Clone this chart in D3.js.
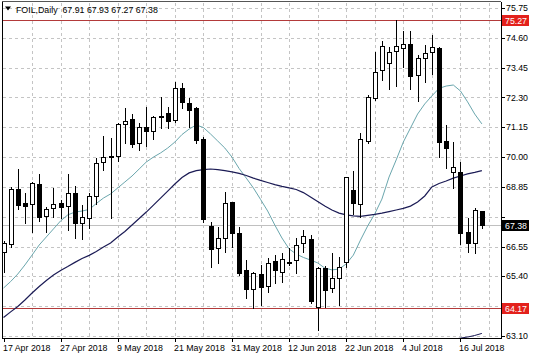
<!DOCTYPE html>
<html>
<head>
<meta charset="utf-8">
<script src="https://cdn.jsdelivr.net/npm/d3@7"></script>
<style>
body { margin: 0; background: #fff; }
svg { display: block; }
text { font-family: "Liberation Sans", Arial, sans-serif; font-size: 8.8px; }
</style>
</head>
<body>
<svg id="chart" width="536" height="357"></svg>
<script>
var symbol = "FOIL,Daily";
var dates = [
	"2018-04-17","2018-04-18","2018-04-19","2018-04-20","2018-04-23","2018-04-24","2018-04-25","2018-04-26","2018-04-27","2018-04-30",
	"2018-05-01","2018-05-02","2018-05-03","2018-05-04","2018-05-07","2018-05-08","2018-05-09","2018-05-10","2018-05-11","2018-05-14",
	"2018-05-15","2018-05-16","2018-05-17","2018-05-18","2018-05-21","2018-05-22","2018-05-23","2018-05-24","2018-05-25","2018-05-28",
	"2018-05-29","2018-05-30","2018-05-31","2018-06-01","2018-06-04","2018-06-05","2018-06-06","2018-06-07","2018-06-08","2018-06-11",
	"2018-06-12","2018-06-13","2018-06-14","2018-06-15","2018-06-18","2018-06-19","2018-06-20","2018-06-21","2018-06-22","2018-06-25",
	"2018-06-26","2018-06-27","2018-06-28","2018-06-29","2018-07-02","2018-07-03","2018-07-04","2018-07-05","2018-07-06","2018-07-09",
	"2018-07-10","2018-07-11","2018-07-12","2018-07-13","2018-07-16","2018-07-17","2018-07-18","2018-07-19"
];
var open = [
	66.35,66.65,68.76,68.22,68.18,68.95,67.74,68.02,68.22,68.11,
	68.60,67.47,67.66,68.51,69.82,70.02,70.05,71.26,71.47,70.53,
	71.17,71.02,71.56,71.71,71.43,72.68,72.07,71.88,70.70,67.34,
	66.48,66.87,68.26,67.06,65.65,64.90,65.48,65.03,65.99,65.56,
	65.95,66.03,66.68,66.84,64.21,65.74,64.94,65.35,65.94,68.73,
	68.18,70.62,72.27,73.36,73.62,74.09,74.22,74.35,73.17,73.83,
	74.04,74.22,70.62,69.44,69.44,67.12,66.68,67.91
];
var high = [
	66.75,68.86,69.54,68.60,69.03,69.35,68.09,68.80,68.35,69.35,
	68.90,68.15,68.60,69.95,70.83,70.72,71.30,71.88,71.65,71.30,
	71.92,71.60,72.33,71.94,72.91,72.85,72.27,71.94,70.79,67.51,
	67.32,68.64,68.28,67.32,66.03,65.58,65.84,66.10,66.22,66.31,
	66.50,66.87,67.19,66.99,65.77,65.80,66.29,66.16,69.24,69.46,
	70.92,72.39,74.04,74.48,74.26,75.27,74.87,74.86,73.94,74.32,
	74.71,74.25,71.24,70.59,69.82,67.64,68.03,67.93
];
var low = [
	65.58,66.54,67.99,67.47,67.12,67.55,67.10,67.70,67.64,67.19,
	66.87,66.84,67.25,68.18,69.50,67.64,69.85,70.56,70.40,70.27,
	70.43,70.69,71.11,71.11,71.36,71.88,71.17,70.53,67.49,65.77,
	65.90,66.35,66.54,65.45,64.58,64.19,64.30,64.81,65.13,65.19,
	65.84,65.52,66.35,64.36,63.33,64.23,64.81,64.30,65.77,67.79,
	67.70,70.55,72.20,72.97,72.63,72.75,73.49,72.63,72.16,72.91,
	73.19,70.02,69.57,68.80,66.64,66.33,66.29,67.27
];
var close = [
	66.68,68.76,68.15,68.13,68.99,67.70,67.99,68.18,68.06,68.60,
	67.47,67.68,68.50,69.76,69.99,70.05,71.26,71.40,70.51,71.17,
	71.01,71.55,71.59,71.40,72.65,72.11,71.82,70.66,67.61,66.46,
	66.87,68.24,67.06,65.52,64.91,65.52,65.00,65.93,65.65,66.07,
	65.92,66.61,66.97,64.45,65.71,64.87,65.35,65.77,69.22,68.22,
	70.70,72.31,73.27,74.30,74.06,74.30,74.35,73.13,73.83,74.03,
	74.23,70.59,70.34,69.63,67.06,66.68,67.96,67.38
];
// moving averages, one value per bar
var maFast = [
	64.95,65.20,65.49,65.84,66.22,66.61,66.92,67.23,67.54,67.77,
	67.88,67.92,67.98,68.21,68.42,68.58,68.81,69.04,69.27,69.54,
	69.81,70.00,70.16,70.35,70.58,70.87,71.08,71.24,71.14,70.89,
	70.62,70.35,70.00,69.56,69.19,68.81,68.37,67.92,67.38,66.88,
	66.46,66.26,66.13,66.03,65.92,65.72,65.65,65.68,65.88,66.22,
	66.80,67.34,67.81,68.38,69.23,69.89,70.58,71.12,71.66,72.05,
	72.36,72.65,72.74,72.78,72.55,72.13,71.66,71.28
];
var maSlow = [
	63.81,64.03,64.24,64.49,64.76,65.01,65.24,65.45,65.63,65.78,
	65.94,66.09,66.21,66.36,66.53,66.69,66.92,67.13,67.38,67.63,
	67.88,68.15,68.42,68.69,68.96,69.21,69.39,69.48,69.52,69.54,
	69.52,69.48,69.43,69.37,69.29,69.19,69.10,69.02,68.94,68.87,
	68.81,68.75,68.63,68.46,68.29,68.11,67.96,67.84,67.77,67.73,
	67.71,67.75,67.79,67.84,67.90,67.96,68.02,68.11,68.27,68.50,
	68.85,68.98,69.08,69.19,69.27,69.35,69.41,69.48
];
var maLongTail = [62.97,63.02,63.06,63.12,63.20]; // last 5 bars only
var priceTicks = [63.10,64.25,65.40,66.55,67.70,68.85,70.00,71.15,72.30,73.45,74.60,75.75];
var levels = [75.27, 64.17];

var svgGlobal = d3.select("#chart");
var pLeft = 2, pTop = 2, pRight = 501, pBottom = 338;
var barCount = dates.length;

var x = d3.scaleLinear().domain([0, 68]).range([3.5, 489]);
var y = d3.scaleLinear().domain([63.10, 75.75]).range([336, 8]);
var parseDate = d3.timeParse("%Y-%m-%d"),
	fmtDate = d3.timeFormat("%-d %b %Y");

function px(v) { return Math.round(v) + 0.5; }
function cx(i) { return Math.round(x(i)); }

svgGlobal.append("defs").append("clipPath").attr("id", "clip")
	.append("rect").attr("x", pLeft + 1).attr("y", pTop + 1)
	.attr("width", pRight - pLeft - 1).attr("height", pBottom - pTop - 1);

// grid
var grid = svgGlobal.append("g").attr("stroke", "#c4c4c4").attr("stroke-dasharray", "3,3");
grid.selectAll("line.h").data(priceTicks).enter().append("line")
	.attr("x1", pLeft + 1).attr("x2", pRight)
	.attr("y1", function(d) { return px(y(d)); })
	.attr("y2", function(d) { return px(y(d)); });
grid.selectAll("line.v").data(d3.range(4, 69, 4)).enter().append("line")
	.attr("x1", function(d) { return cx(d) + 0.5; })
	.attr("x2", function(d) { return cx(d) + 0.5; })
	.attr("y1", pTop + 1).attr("y2", pBottom);

var plot = svgGlobal.append("g").attr("clip-path", "url(#clip)");

// level lines and close line
plot.selectAll("line.level").data(levels).enter().append("line")
	.attr("stroke", "#b33a3a")
	.attr("x1", pLeft).attr("x2", pRight)
	.attr("y1", function(d) { return px(y(d)); })
	.attr("y2", function(d) { return px(y(d)); });
plot.append("line")
	.attr("stroke", "#c0c0c0")
	.attr("x1", pLeft).attr("x2", pRight)
	.attr("y1", px(y(close[barCount - 1])))
	.attr("y2", px(y(close[barCount - 1])));

// moving averages
var line = d3.line()
	.defined(function(d) { return d != null; })
	.x(function(d, i) { return x(i); })
	.y(function(d) { return y(d); });
plot.append("path").datum(maFast)
	.attr("fill", "none").attr("stroke", "#6aa6ad").attr("stroke-width", 1)
	.attr("d", line);
plot.append("path").datum(maSlow)
	.attr("fill", "none").attr("stroke", "#1b1b55").attr("stroke-width", 1.2)
	.attr("d", line);
var longData = d3.range(barCount).map(function(i) {
	var k = i - (barCount - maLongTail.length);
	return k >= 0 ? maLongTail[k] : null;
});
plot.append("path").datum(longData)
	.attr("fill", "none").attr("stroke", "#1b1b55").attr("stroke-width", 1)
	.attr("d", line);

// candles
var bars = dates.map(function(d, i) {
	return { i: i, o: open[i], h: high[i], l: low[i], c: close[i] };
});
var candle = plot.selectAll("g.bar").data(bars).enter().append("g");
candle.append("line")
	.attr("stroke", "#000")
	.attr("x1", function(d) { return cx(d.i) + 0.5; })
	.attr("x2", function(d) { return cx(d.i) + 0.5; })
	.attr("y1", function(d) { return Math.round(y(d.h)); })
	.attr("y2", function(d) { return Math.round(y(d.l)) + 1; });
candle.append("rect")
	.attr("stroke", "#000")
	.attr("fill", function(d) { return d.c >= d.o ? "#fff" : "#000"; })
	.attr("x", function(d) { return cx(d.i) - 1.5; })
	.attr("width", 4)
	.attr("y", function(d) { return Math.round(y(Math.max(d.o, d.c))) + 0.5; })
	.attr("height", function(d) {
		var h = Math.round(y(Math.min(d.o, d.c))) - Math.round(y(Math.max(d.o, d.c)));
		return Math.max(h, 1);
	});

// frame
svgGlobal.append("line").attr("stroke", "#000")
	.attr("x1", pLeft + 0.5).attr("x2", pLeft + 0.5).attr("y1", pTop).attr("y2", pBottom + 1);
svgGlobal.append("line").attr("stroke", "#555")
	.attr("x1", pLeft).attr("x2", pRight).attr("y1", pTop - 0.5).attr("y2", pTop - 0.5);
svgGlobal.append("line").attr("stroke", "#000")
	.attr("x1", pRight + 0.5).attr("x2", pRight + 0.5).attr("y1", pTop).attr("y2", pBottom + 1);
svgGlobal.append("line").attr("stroke", "#000")
	.attr("x1", pLeft).attr("x2", pRight + 1).attr("y1", pBottom + 0.5).attr("y2", pBottom + 0.5);

// price axis (labels hidden behind a price tag are left out, as in the terminal)
var tagged = levels.concat([close[barCount - 1]]);
var shownTicks = priceTicks.filter(function(t) {
	return tagged.every(function(v) { return Math.abs(y(v) - y(t)) > 9; });
});
var yAxis = svgGlobal.append("g");
yAxis.selectAll("line").data(priceTicks).enter().append("line")
	.attr("stroke", "#000")
	.attr("x1", pRight).attr("x2", pRight + 4)
	.attr("y1", function(d) { return px(y(d)); })
	.attr("y2", function(d) { return px(y(d)); });
yAxis.selectAll("text").data(shownTicks).enter().append("text")
	.attr("x", pRight + 5)
	.attr("y", function(d) { return y(d); })
	.attr("dy", "0.35em")
	.attr("fill", "#000")
	.text(function(d) { return d.toFixed(2); });

function priceTag(v, fill) {
	var yy = Math.round(y(v));
	svgGlobal.append("rect").attr("x", pRight + 1).attr("y", yy - 5)
		.attr("width", 27).attr("height", 11).attr("fill", fill);
	svgGlobal.append("text").attr("x", pRight + 4).attr("y", yy + 0.5)
		.attr("dy", "0.35em").attr("fill", "#fff").text(v.toFixed(2));
}
levels.forEach(function(v) { priceTag(v, "#e3211c"); });
priceTag(close[barCount - 1], "#000");

// time axis
var tickIdx = d3.range(0, barCount, 8);
var xAxis = svgGlobal.append("g");
xAxis.selectAll("line").data(tickIdx).enter().append("line")
	.attr("stroke", "#000")
	.attr("x1", function(d) { return cx(d) + 0.5; })
	.attr("x2", function(d) { return cx(d) + 0.5; })
	.attr("y1", pBottom).attr("y2", pBottom + 4);
xAxis.selectAll("text").data(tickIdx).enter().append("text")
	.attr("x", function(d) { return cx(d) - 1; })
	.attr("y", pBottom + 13)
	.attr("fill", "#000")
	.text(function(d) { return fmtDate(parseDate(dates[d])); });

// title
svgGlobal.append("path").attr("d", "M5,6.5L11,6.5L8,10.5Z").attr("fill", "#000");
var last = barCount - 1;
svgGlobal.append("text")
	.attr("x", 16).attr("y", 12.5)
	.attr("fill", "#000")
	.style("white-space", "pre")
	.text(symbol + "  " + [open[last], high[last], low[last], close[last]].map(function(v) { return v.toFixed(2); }).join(" "));
</script>
</body>
</html>
